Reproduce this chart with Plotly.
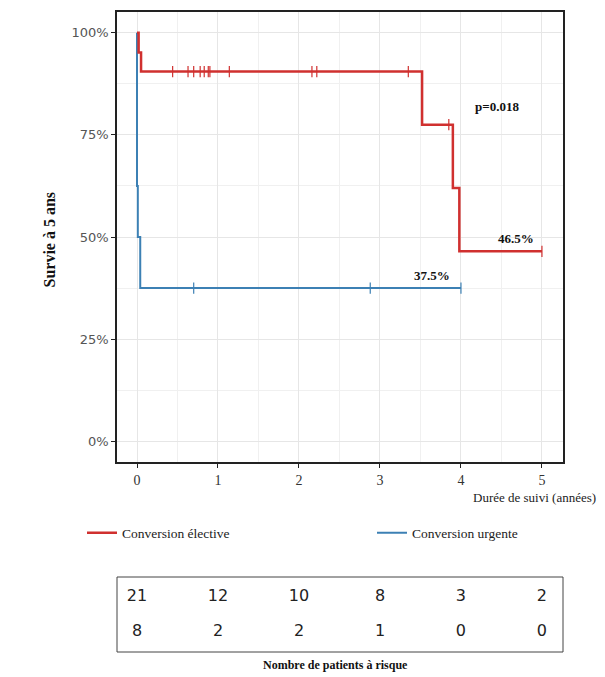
import plotly.graph_objects as go

# --- Kaplan-Meier steps ---
elec_t = [0, 0.02, 0.02, 0.05, 0.05, 3.52, 3.52, 3.90, 3.90, 3.98, 3.98, 5.0]
elec_s = [100, 100, 95.2, 95.2, 90.5, 90.5, 77.5, 77.5, 62.0, 62.0, 46.5, 46.5]
elec_cens_t = [0.44, 0.63, 0.70, 0.78, 0.83, 0.88, 0.90, 1.14, 2.16, 2.22, 3.35, 3.85, 5.0]
elec_cens_s = [90.5] * 11 + [77.5, 46.5]

urg_t = [0, 0, 0, 0, 0.01, 0.01, 0.04, 0.04, 4.0]
urg_s = [100, 87.5, 75, 62.5, 62.5, 50, 50, 37.5, 37.5]
urg_cens_t = [0.70, 2.88, 4.0]
urg_cens_s = [37.5, 37.5, 37.5]

# patients at risk
risk_times = [0, 1, 2, 3, 4, 5]
risk_elec = [21, 12, 10, 8, 3, 2]
risk_urg = [8, 2, 2, 1, 0, 0]

RED = "#D0302F"
BLUE = "#3C80B4"
SERIF = "Liberation Serif"

# page body has an 8px margin, so work in shifted pixel coordinates
W, H = 590, 668
def px(x):
    return (x - 8) / W
def py(y):
    return 1 - (y - 8) / H

fig = go.Figure()
fig.add_trace(go.Scatter(x=urg_t, y=urg_s, mode="lines", line=dict(color=BLUE, width=2),
                         name="Conversion urgente", legend="legend2"))
fig.add_trace(go.Scatter(x=urg_cens_t, y=urg_cens_s, mode="markers", showlegend=False,
                         marker=dict(symbol="line-ns", size=8, line=dict(color=BLUE, width=1.2))))
fig.add_trace(go.Scatter(x=elec_t, y=elec_s, mode="lines", line=dict(color=RED, width=2.5),
                         name="Conversion élective", legend="legend"))
fig.add_trace(go.Scatter(x=elec_cens_t, y=elec_cens_s, mode="markers", showlegend=False,
                         marker=dict(symbol="line-ns", size=8, line=dict(color=RED, width=1.2))))

# risk table drawn on a second axis pair
fig.add_trace(go.Scatter(x=risk_times, y=[1] * 6, text=[str(v) for v in risk_elec], mode="text",
                         textfont=dict(family="DejaVu Sans", size=16, color="#222"),
                         xaxis="x2", yaxis="y2", showlegend=False))
fig.add_trace(go.Scatter(x=risk_times, y=[0] * 6, text=[str(v) for v in risk_urg], mode="text",
                         textfont=dict(family="DejaVu Sans", size=16, color="#222"),
                         xaxis="x2", yaxis="y2", showlegend=False))

xdom = [px(117), px(563)]
legend_font = dict(family=SERIF, size=13.5, color="#222")
fig.update_layout(
    width=W, height=H,
    margin=dict(l=0, r=0, t=0, b=0),
    paper_bgcolor="white", plot_bgcolor="white",
    xaxis=dict(domain=xdom, range=[-0.247, 5.26], tickvals=[0, 1, 2, 3, 4, 5],
               showgrid=True, gridcolor="#e6e6e6", minor=dict(dtick=0.5, showgrid=True, gridcolor="#f0f0f0"),
               zeroline=False, showline=True, linecolor="#222", linewidth=1.5, mirror=True,
               ticks="outside", ticklen=4, tickcolor="#222",
               tickfont=dict(family=SERIF, size=14, color="#333")),
    yaxis=dict(domain=[py(462), py(12)], range=[-5.1, 105.1], tickvals=[0, 25, 50, 75, 100],
               ticktext=["0%", "25%", "50%", "75%", "100%"],
               showgrid=True, gridcolor="#e6e6e6", minor=dict(dtick=12.5, showgrid=True, gridcolor="#f0f0f0"),
               zeroline=False, showline=True, linecolor="#222", linewidth=1.5, mirror=True,
               ticks="outside", ticklen=4, tickcolor="#222",
               tickfont=dict(family="DejaVu Sans", size=13, color="#555")),
    xaxis2=dict(domain=xdom, range=[-0.247, 5.26], visible=False, anchor="y2"),
    yaxis2=dict(domain=[py(652), py(577)], range=[-0.6, 1.6], visible=False, anchor="x2"),
    legend=dict(orientation="h", x=px(82), y=py(533), xanchor="left", yanchor="middle", font=legend_font),
    legend2=dict(orientation="h", x=px(372), y=py(533), xanchor="left", yanchor="middle", font=legend_font),
    shapes=[dict(type="rect", xref="paper", yref="paper", x0=xdom[0], x1=xdom[1], y0=py(652), y1=py(577),
                 line=dict(color="#444", width=1))],
    annotations=[
        dict(text="Survie à 5 ans", textangle=-90, xref="paper", yref="paper", x=px(38), y=py(240),
             showarrow=False, font=dict(family=SERIF, size=16, color="#111", weight="bold")),
        dict(text="Durée de suivi (années)", xref="paper", yref="paper", x=px(598), y=py(498),
             xanchor="right", yanchor="middle", showarrow=False,
             font=dict(family=SERIF, size=13, color="#222")),
        dict(text="Nombre de patients à risque", xref="paper", yref="paper", x=px(335), y=py(665),
             yanchor="middle", showarrow=False, font=dict(family=SERIF, size=12, color="#111", weight="bold")),
        dict(text="p=0.018", x=4.44, y=81.9, showarrow=False,
             font=dict(family=SERIF, size=13, color="#111", weight="bold")),
        dict(text="46.5%", x=4.68, y=49.6, showarrow=False,
             font=dict(family=SERIF, size=13, color="#111", weight="bold")),
        dict(text="37.5%", x=3.64, y=40.6, showarrow=False,
             font=dict(family=SERIF, size=13, color="#111", weight="bold")),
    ],
)

fig.write_html("out.html")
